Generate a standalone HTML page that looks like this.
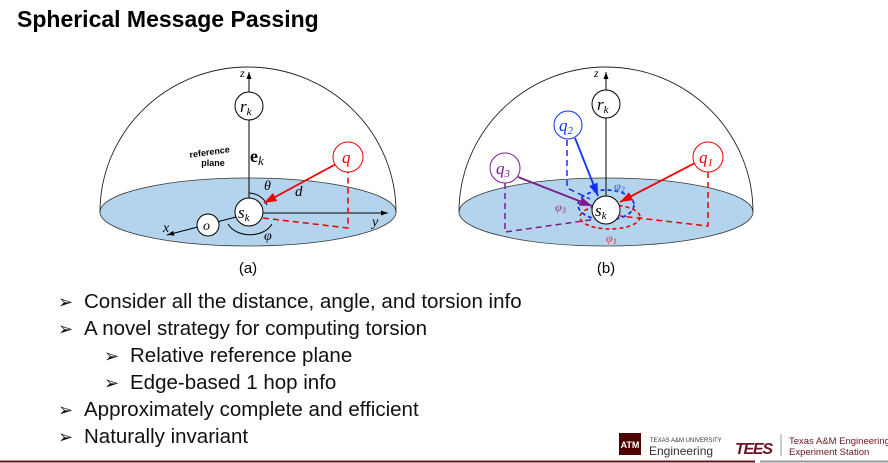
<!DOCTYPE html>
<html><head><meta charset="utf-8"><style>
body{margin:0;width:888px;height:463px;background:#fff;position:relative;overflow:hidden;font-family:"Liberation Sans",sans-serif}
.t{position:absolute;left:17px;top:6px;font-size:23px;font-weight:bold;color:#000}
.b{position:absolute;font-size:20.5px;color:#111;white-space:nowrap}
.b span{display:inline-block;width:26px;font-size:18px;font-family:"DejaVu Sans",sans-serif}
svg{position:absolute;left:0;top:0}
</style></head><body>
<div class="t">Spherical Message Passing</div>
<svg width="888" height="463" font-family="Liberation Serif" font-style="italic">
<defs>
<marker id="a" markerWidth="8" markerHeight="8" refX="7" refY="4" orient="auto"><path d="M0,1.5 L7,4 L0,6.5z" fill="#000"/></marker>
<marker id="r" markerWidth="8" markerHeight="8" refX="7" refY="4" orient="auto"><path d="M0,1.5 L7,4 L0,6.5z" fill="#e00"/></marker>
<marker id="bl" markerWidth="8" markerHeight="8" refX="7" refY="4" orient="auto"><path d="M0,1.5 L7,4 L0,6.5z" fill="#13e"/></marker>
<marker id="p" markerWidth="8" markerHeight="8" refX="7" refY="4" orient="auto"><path d="M0,1.5 L7,4 L0,6.5z" fill="#7a1d8a"/></marker>
</defs>
<!-- (a) -->
<ellipse cx="248" cy="212" rx="148" ry="34" fill="#b4d4ee" stroke="#333" stroke-width="0.8"/>
<path d="M100,212 A148,145 0 0 1 396,212" fill="none" stroke="#222" stroke-width="0.9"/>
<line x1="249" y1="198" x2="249" y2="72" stroke="#000" marker-end="url(#a)"/>
<circle cx="249" cy="106" r="14" fill="#fff" stroke="#000"/>
<text x="240" y="112" font-size="17">r<tspan font-size="11" dy="3">k</tspan></text>
<text x="240" y="77" font-size="12">z</text>
<text x="250" y="162" font-size="18" font-style="normal" font-weight="bold">e<tspan font-size="13" font-style="italic" font-weight="normal" dy="3">k</tspan></text>
<text x="210" y="155" font-size="9" font-style="normal" font-family="Liberation Sans" font-weight="bold" text-anchor="middle" transform="rotate(-8 210 155)">reference</text>
<text x="213" y="166" font-size="9" font-style="normal" font-family="Liberation Sans" font-weight="bold" text-anchor="middle">plane</text>
<line x1="263" y1="213" x2="388" y2="213" stroke="#000" marker-end="url(#a)"/>
<text x="372" y="226" font-size="14">y</text>
<line x1="236" y1="217" x2="167" y2="235" stroke="#000" marker-end="url(#a)"/>
<text x="163" y="232" font-size="14">x</text>
<circle cx="208" cy="225" r="11" fill="#fff" stroke="#000"/>
<text x="203" y="230" font-size="14">o</text>
<path d="M228,224 A24,18 0 0 0 272,224" fill="none" stroke="#000"/>
<path d="M249,193 A20,18 0 0 1 267,205" fill="none" stroke="#000"/>
<text x="264" y="190" font-size="14">θ</text>
<text x="264" y="240" font-size="14">φ</text>
<line x1="336" y1="164" x2="264" y2="203" stroke="#e00" stroke-width="1.8" marker-end="url(#r)"/>
<text x="295" y="196" font-size="15">d</text>
<path d="M263,218 L348,228 L348,172" fill="none" stroke="#e00" stroke-width="1.5" stroke-dasharray="6,4"/>
<circle cx="249" cy="212" r="14" fill="#fff" stroke="#000"/>
<text x="238" y="218" font-size="17">s<tspan font-size="11" dy="3">k</tspan></text>
<circle cx="348" cy="157" r="15" fill="#fff" stroke="#e00"/>
<text x="342" y="163" font-size="17" fill="#e00">q</text>
<text x="248" y="273" font-size="15" font-style="normal" font-family="Liberation Sans" text-anchor="middle">(a)</text>
<!-- (b) -->
<ellipse cx="606" cy="212" rx="147" ry="34" fill="#b4d4ee" stroke="#333" stroke-width="0.8"/>
<path d="M459,212 A147,145 0 0 1 753,212" fill="none" stroke="#222" stroke-width="0.9"/>
<line x1="606" y1="196" x2="606" y2="72" stroke="#000" marker-end="url(#a)"/>
<text x="594" y="77" font-size="12">z</text>
<circle cx="606" cy="104" r="14" fill="#fff" stroke="#000"/>
<text x="597" y="110" font-size="17">r<tspan font-size="11" dy="3">k</tspan></text>
<path d="M567,140 L567,188 L590,199" fill="none" stroke="#13e" stroke-width="1.5" stroke-dasharray="6,4"/>
<path d="M505,183 L505,232 L597,219" fill="none" stroke="#7a1d8a" stroke-width="1.5" stroke-dasharray="6,4"/>
<path d="M708,172 L708,226 L620,216" fill="none" stroke="#e00" stroke-width="1.5" stroke-dasharray="6,4"/>
<ellipse cx="606" cy="205" rx="28" ry="15" fill="none" stroke="#13e" stroke-width="1.8" stroke-dasharray="4,3"/>
<ellipse cx="610" cy="217" rx="30" ry="12" fill="none" stroke="#e00" stroke-width="1.6" stroke-dasharray="4,3"/>
<line x1="575" y1="138" x2="598" y2="196" stroke="#13e" stroke-width="1.8" marker-end="url(#bl)"/>
<line x1="695" y1="163" x2="620" y2="202" stroke="#e00" stroke-width="1.8" marker-end="url(#r)"/>
<line x1="518" y1="177" x2="592" y2="206" stroke="#7a1d8a" stroke-width="1.8" marker-end="url(#p)"/>
<circle cx="606" cy="210" r="14" fill="#fff" stroke="#000"/>
<text x="595" y="216" font-size="17">s<tspan font-size="11" dy="3">k</tspan></text>
<circle cx="568" cy="125" r="14" fill="#fff" stroke="#13e"/>
<text x="559" y="131" font-size="17" fill="#13e">q<tspan font-size="11" dy="3">2</tspan></text>
<circle cx="708" cy="157" r="15" fill="#fff" stroke="#e00"/>
<text x="699" y="163" font-size="17" fill="#e00">q<tspan font-size="11" dy="3">1</tspan></text>
<circle cx="505" cy="168" r="15" fill="#fff" stroke="#7a1d8a"/>
<text x="496" y="174" font-size="17" fill="#7a1d8a">q<tspan font-size="11" dy="3">3</tspan></text>
<text x="614" y="190" font-size="12" fill="#4a7be8" font-weight="bold">φ<tspan font-size="8" dy="2">2</tspan></text>
<text x="555" y="211" font-size="12" fill="#9a5aa8" font-weight="bold">φ<tspan font-size="8" dy="2">3</tspan></text>
<text x="606" y="242" font-size="12" fill="#e55" font-weight="bold">φ<tspan font-size="8" dy="2">1</tspan></text>
<text x="606" y="273" font-size="15" font-style="normal" font-family="Liberation Sans" text-anchor="middle">(b)</text>
<line x1="0" y1="461.5" x2="755" y2="461.5" stroke="#6b1520" stroke-width="2"/>
<line x1="760" y1="461.5" x2="888" y2="461.5" stroke="#999" stroke-width="2"/>
<rect x="619" y="433" width="22" height="22" fill="#500000"/>
<text x="630" y="448" font-size="9" font-style="normal" font-family="Liberation Sans" font-weight="bold" fill="#fff" text-anchor="middle">ATM</text>
<text x="650" y="442" font-size="6" font-style="normal" font-family="Liberation Sans" fill="#333">TEXAS A&amp;M UNIVERSITY</text>
<text x="649" y="455" font-size="12" font-style="normal" font-family="Liberation Sans" fill="#333">Engineering</text>
<text x="735" y="454" font-size="16" font-family="Liberation Sans" font-weight="bold" fill="#6b1520" textLength="38">TEES</text>
<line x1="781" y1="434" x2="781" y2="456" stroke="#999"/>
<text x="789" y="444" font-size="9.5" font-style="normal" font-family="Liberation Sans" fill="#6b1520">Texas A&amp;M Engineering</text>
<text x="789" y="455" font-size="9.5" font-style="normal" font-family="Liberation Sans" fill="#6b1520">Experiment Station</text>
</svg>
<div class="b" style="left:58px;top:290px"><span>➢</span>Consider all the distance, angle, and torsion info</div>
<div class="b" style="left:58px;top:317px"><span>➢</span>A novel strategy for computing torsion</div>
<div class="b" style="left:104px;top:344px"><span>➢</span>Relative reference plane</div>
<div class="b" style="left:104px;top:371px"><span>➢</span>Edge-based 1 hop info</div>
<div class="b" style="left:58px;top:398px"><span>➢</span>Approximately complete and efficient</div>
<div class="b" style="left:58px;top:425px"><span>➢</span>Naturally invariant</div>
</body></html>
